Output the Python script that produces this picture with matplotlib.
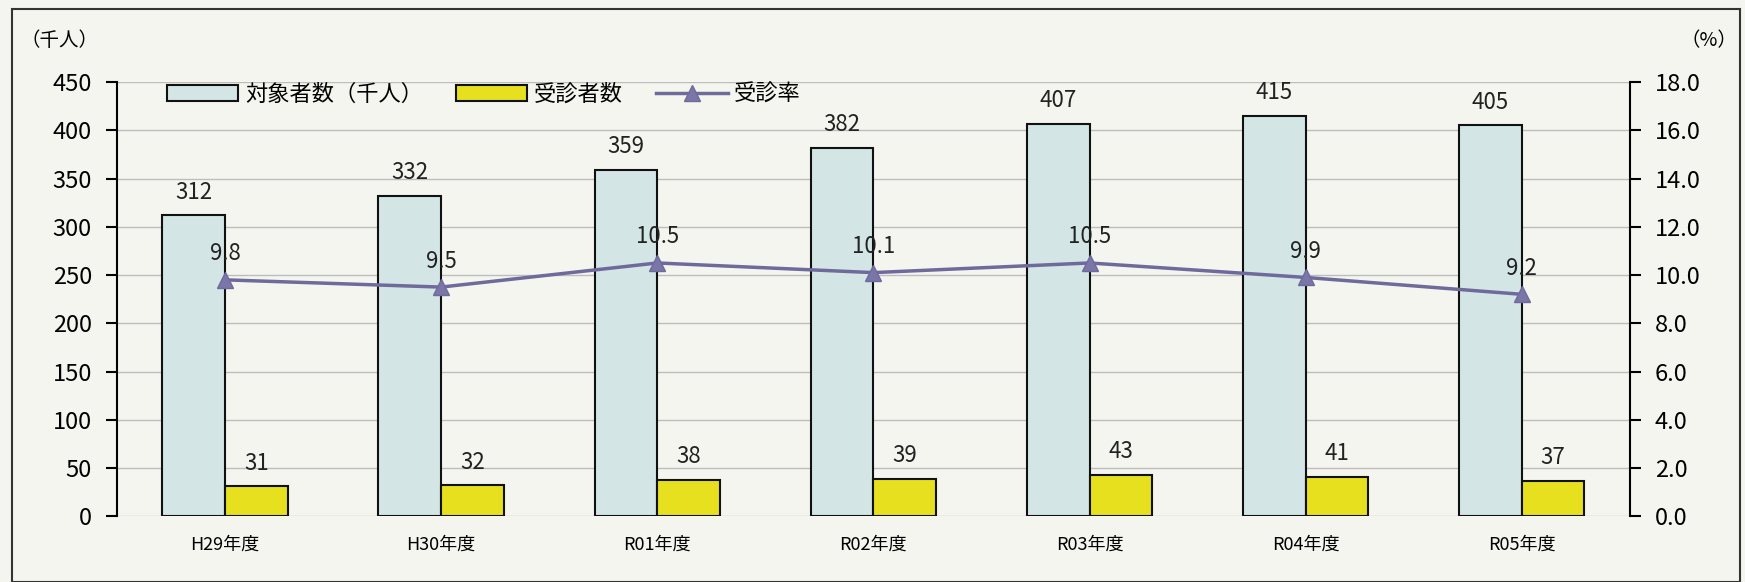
import matplotlib
matplotlib.use("Agg")
import matplotlib.pyplot as plt
from matplotlib.patches import Rectangle
import numpy as np

plt.rcParams['font.family'] = ['Noto Sans CJK JP', 'DejaVu Sans']

categories = ["H29年度", "H30年度", "R01年度", "R02年度", "R03年度", "R04年度", "R05年度"]
targets = [312, 332, 359, 382, 407, 415, 405]
examinees = [31, 32, 38, 39, 43, 41, 37]
rates = [9.8, 9.5, 10.5, 10.1, 10.5, 9.9, 9.2]
left_ticks = list(range(0, 451, 50))
right_ticks = [0, 2, 4, 6, 8, 10, 12, 14, 16, 18]

fig = plt.figure(figsize=(17.45, 5.82), dpi=100)
fig.patch.set_facecolor('#f4f5ef')
ax = fig.add_axes([0.067, 0.113, 0.867, 0.746])
ax.set_facecolor('#f4f5ef')
ax2 = ax.twinx()

x = np.arange(len(categories))
w = 0.29
b1 = ax.bar(x - w / 2, targets, w, color='#d3e5e5', edgecolor='#111111', linewidth=1.5,
            label='対象者数（千人）', zorder=2)
b2 = ax.bar(x + w / 2, examinees, w, color='#e6e01e', edgecolor='#111111', linewidth=1.5,
            label='受診者数', zorder=2)
for xi, v in zip(x, targets):
    ax.text(xi - w / 2, v + 12, str(v), ha='center', va='bottom', fontsize=16, color='#222222')
for xi, v in zip(x, examinees):
    ax.text(xi + w / 2, v + 12, str(v), ha='center', va='bottom', fontsize=16, color='#222222')

ln, = ax2.plot(x, rates, color='#6f6a9c', linewidth=2.5, marker='^', markersize=12,
               markerfacecolor='#7b76a8', markeredgecolor='#6f6a9c', label='受診率', zorder=3)
for xi, v in zip(x, rates):
    ax2.text(xi, v + 0.6, f"{v:.1f}", ha='center', va='bottom', fontsize=16, color='#222222')

ax.set_xlim(-0.5, len(categories) - 0.5)
ax.set_ylim(0, 450)
ax2.set_ylim(0, 18)
ax.set_yticks(left_ticks)
ax.set_yticklabels([str(t) for t in left_ticks], fontsize=17)
ax2.set_yticks(right_ticks)
ax2.set_yticklabels([f"{t:.1f}" for t in right_ticks], fontsize=17)
ax.set_xticks(x)
ax.set_xticklabels(categories, fontsize=13)
ax.tick_params(axis='x', length=0, pad=14)
ax.tick_params(axis='y', length=8, width=1.5, direction='out', pad=10)
ax2.tick_params(axis='y', length=8, width=1.5, direction='out', pad=10)

ax.yaxis.grid(True, color='#bdbdbd', linewidth=1)
ax.set_axisbelow(True)
for sp in ['top', 'bottom']:
    ax.spines[sp].set_visible(False)
    ax2.spines[sp].set_visible(False)
ax2.spines['left'].set_visible(False)
ax.spines['right'].set_visible(False)
ax.spines['left'].set_linewidth(1.5)
ax2.spines['right'].set_linewidth(1.5)

fig.text(0.012, 0.93, '（千人）', fontsize=14, ha='left', va='center')
fig.text(0.963, 0.93, '（%）', fontsize=14, ha='left', va='center')

leg = ax.legend(handles=[b1, b2, ln], loc='upper left', bbox_to_anchor=(0.02, 1.045), ncol=3,
                frameon=False, fontsize=16, handlelength=3.2, columnspacing=1.5, handletextpad=0.3)

fig.patches.append(Rectangle((0.007, 0.0), 0.99, 0.985, transform=fig.transFigure,
                             fill=False, edgecolor='#333333', linewidth=1.5))

fig.savefig('out.png', dpi=100, facecolor=fig.get_facecolor())
